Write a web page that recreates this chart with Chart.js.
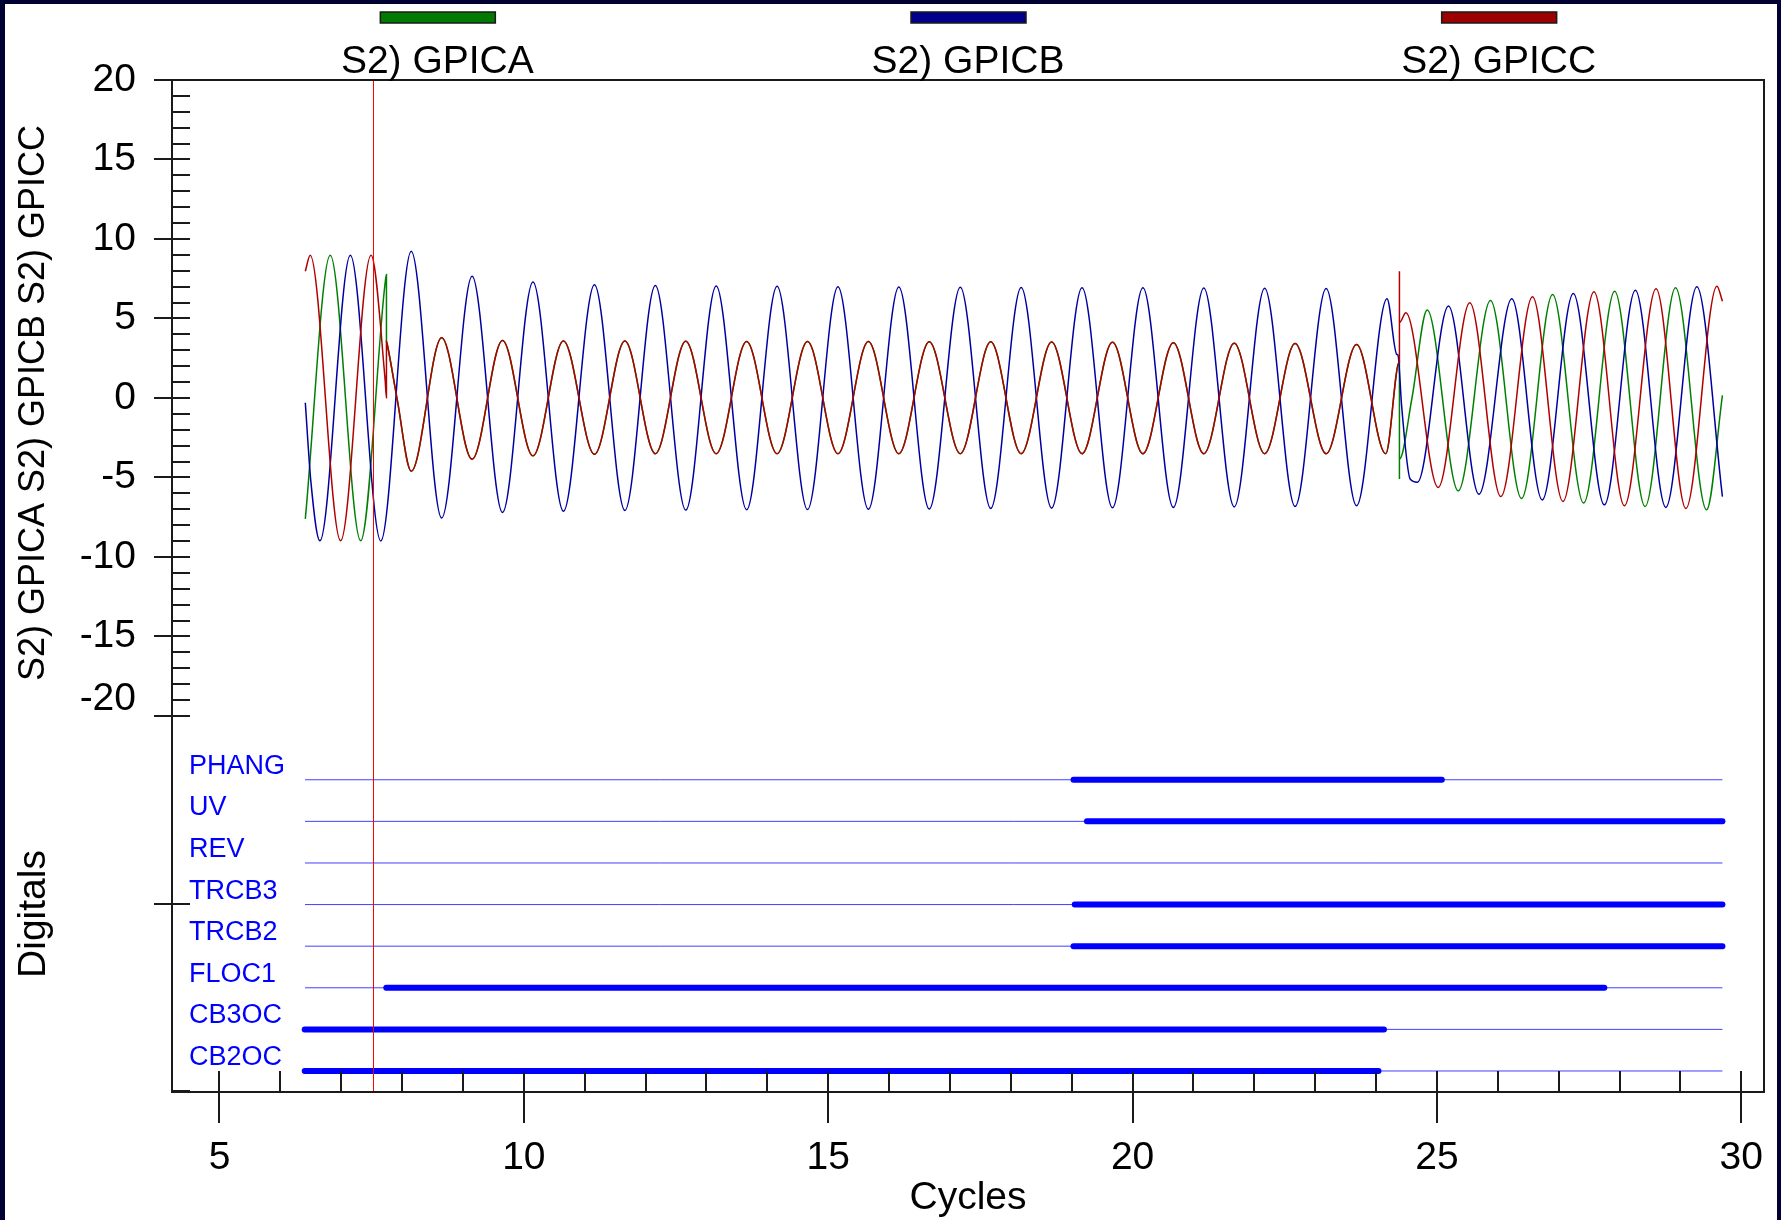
<!DOCTYPE html>
<html>
<head>
<meta charset="utf-8">
<title>S2 GPIC event record</title>
<script src="https://cdn.jsdelivr.net/npm/chart.js@4.4.1/dist/chart.umd.min.js"></script>
<style>
	html, body { margin: 0; padding: 0; background: #fff; overflow: hidden; }
	canvas { display: block; }
</style>
</head>
<body>
<canvas id="chart-gpic" width="1781" height="1220"></canvas>
<script>
'use strict';

// Analog channels, [cycles, value] (peaks, troughs, steps)
const gpicaPre = [[6.41, -7.6], [6.82, 8.98], [7.32, -8.98], [7.72, 7.2], [7.743, 7.77]];
const gpicbPre = [[6.41, -0.3], [6.5, -5.2], [6.65, -8.98], [7.15, 8.98], [7.65, -8.99]];
const gpiccPre = [[6.41, 7.97], [6.49, 8.98], [6.99, -8.98], [7.49, 8.98], [7.72, 1.2], [7.743, 0.02]];

// A and C lie on top of each other during the fault
const gpicacFault = [
	[7.743, 3.57], [7.76, 3.3], [7.92, -0.1], [8.15, -4.6], [8.65, 3.79], [9.15, -3.85],
	[9.65, 3.62], [10.15, -3.64], [10.65, 3.58], [11.16, -3.54], [11.66, 3.58], [12.16, -3.5],
	[12.66, 3.57], [13.16, -3.5], [13.66, 3.56], [14.16, -3.5], [14.66, 3.55], [15.16, -3.5],
	[15.66, 3.55], [16.16, -3.5], [16.66, 3.54], [17.17, -3.5], [17.67, 3.53], [18.17, -3.5],
	[18.67, 3.52], [19.17, -3.5], [19.67, 3.5], [20.17, -3.5], [20.67, 3.48], [21.17, -3.5],
	[21.67, 3.45], [22.17, -3.5], [22.67, 3.42], [23.18, -3.5], [23.68, 3.37], [24.16, -3.5],
	[24.384, 2.3]
];
const gpicbFault = [
	[8.15, 9.23], [8.65, -7.55], [9.15, 7.66], [9.65, -7.2], [10.15, 7.3], [10.65, -7.12],
	[11.16, 7.13], [11.66, -7.07], [12.16, 7.08], [12.66, -7.05], [13.16, 7.05], [13.66, -7.03],
	[14.16, 7.02], [14.66, -7.02], [15.16, 7.0], [15.66, -7.0], [16.16, 6.98], [16.66, -6.98],
	[17.17, 6.96], [17.67, -6.95], [18.17, 6.95], [18.67, -6.93], [19.17, 6.94], [19.67, -6.9],
	[20.17, 6.93], [20.67, -6.88], [21.17, 6.92], [21.67, -6.85], [22.17, 6.9], [22.67, -6.82],
	[23.18, 6.88], [23.68, -6.78], [24.18, 6.24], [24.34, 2.74], [24.36, 2.7], [24.42, -0.5],
	[24.56, -5.1], [24.68, -5.3]
];

const gpicaPost = [
	[24.384, -5.1], [24.384, -3.85], [24.59, 0.0], [24.84, 5.53], [25.35, -5.84], [25.88, 6.13],
	[26.39, -6.32], [26.9, 6.51], [27.41, -6.61], [27.92, 6.72], [28.42, -6.82], [28.92, 6.93],
	[29.43, -7.03], [29.69, 0.17]
];
const gpicbPost = [
	[25.19, 5.78], [25.69, -6.05], [26.23, 6.24], [26.73, -6.41], [27.24, 6.57], [27.75, -6.72],
	[28.26, 6.78], [28.76, -6.88], [29.27, 6.99], [29.69, -6.2]
];
const gpiccPost = [
	[24.384, 7.97], [24.384, 4.73], [24.49, 5.36], [25.02, -5.63], [25.54, 5.99], [26.05, -6.2],
	[26.57, 6.36], [27.07, -6.51], [27.58, 6.68], [28.08, -6.78], [28.6, 6.87], [29.09, -6.95],
	[29.6, 7.03], [29.69, 6.09]
];

const seriesNames = ['S2) GPICA', 'S2) GPICB', 'S2) GPICC'];

// Digital channels, top to bottom, with the span (cycles) where each is set
const digitalNames = ['PHANG', 'UV', 'REV', 'TRCB3', 'TRCB2', 'FLOC1', 'CB3OC', 'CB2OC'];
const digitalOn = [[19.03, 25.08], [19.25, 29.69], null, [19.05, 29.69], [19.03, 29.69], [7.74, 27.75], [6.4, 24.13], [6.4, 24.04]];
const recordSpan = [6.405, 29.69];
const cursorAt = 7.527;

const xTickLabels = [5, 10, 15, 20, 25, 30];
const yTickLabels = [20, 15, 10, 5, 0, -5, -10, -15, -20];

const FONT = '"Liberation Sans", Arial, sans-serif';
const COLORS = {
	a: '#008000',
	b: '#0000a0',
	c: '#b00000',
	legend: ['#007a00', '#00008c', '#9c0000'],
	digital: '#0000ff',
	border: '#000033',
	axis: '#1a1a1a'
};

const toXY = pts => pts.map(p => ({ x: p[0], y: p[1] }));

const analog = (label, pts, color, order) => ({
	label: label,
	data: toXY(pts),
	borderColor: color,
	borderWidth: 1.5,
	pointRadius: 0,
	fill: false,
	cubicInterpolationMode: 'monotone',
	yAxisID: 'y',
	order: order
});

const buildDatasets = () => {
	const sets = [
		analog(seriesNames[0], [...gpicaPre, ...gpicacFault, ...gpicaPost], COLORS.a, 2),
		analog(seriesNames[1], [...gpicbPre, ...gpicbFault, ...gpicbPost], COLORS.b, 1),
		analog(seriesNames[2], [...gpiccPre, ...gpicacFault, ...gpiccPost], COLORS.c, 0)
	];

	digitalNames.forEach((name, i) => {
		const level = digitalNames.length - 1 - i;
		sets.push({
			label: name,
			data: [{ x: recordSpan[0], y: level }, { x: recordSpan[1], y: level }],
			borderColor: 'rgba(0, 0, 255, 0.75)',
			borderWidth: 1,
			pointRadius: 0,
			yAxisID: 'yd',
			order: 4
		});
		if (digitalOn[i]) {
			sets.push({
				label: name + ' on',
				data: [{ x: digitalOn[i][0], y: level }, { x: digitalOn[i][1], y: level }],
				borderColor: COLORS.digital,
				borderWidth: 6,
				borderCapStyle: 'round',
				pointRadius: 0,
				yAxisID: 'yd',
				order: 3
			});
		}
	});
	return sets;
};

// frame, ticks, labels, legend and cursor are drawn here
const recordFrame = {
	id: 'recordFrame',

	beforeDraw(chart) {
		const { ctx, width, height } = chart;
		ctx.save();
		ctx.fillStyle = '#ffffff';
		ctx.fillRect(0, 0, width, height);
		ctx.fillStyle = COLORS.border;
		ctx.fillRect(0, 0, width, 4);
		ctx.fillRect(0, 0, 5, height);
		ctx.fillRect(width - 4, 0, 4, height);
		ctx.restore();
	},

	afterDatasetsDraw(chart) {
		const { ctx, chartArea: area } = chart;
		const xs = chart.scales.x;
		const ys = chart.scales.y;
		const yd = chart.scales.yd;

		ctx.save();

		// cursor
		const cx = Math.round(xs.getPixelForValue(cursorAt)) + 0.5;
		ctx.strokeStyle = '#ff0000';
		ctx.lineWidth = 1;
		ctx.beginPath();
		ctx.moveTo(cx, area.top);
		ctx.lineTo(cx, area.bottom);
		ctx.stroke();

		// frame
		ctx.strokeStyle = COLORS.axis;
		ctx.lineWidth = 2;
		ctx.strokeRect(area.left, area.top, area.right - area.left, area.bottom - area.top);

		// x ticks
		ctx.beginPath();
		for (let v = Math.ceil(xs.min); v <= xs.max; v++) {
			const px = Math.round(xs.getPixelForValue(v));
			const major = xTickLabels.includes(v);
			ctx.moveTo(px, area.bottom - 21);
			ctx.lineTo(px, area.bottom + (major ? 31 : 0));
		}
		// y ticks, analog band
		for (let v = yTickLabels[yTickLabels.length - 1]; v <= yTickLabels[0]; v++) {
			const py = Math.round(ys.getPixelForValue(v));
			const major = yTickLabels.includes(v);
			ctx.moveTo(area.left - (major ? 18 : 0), py);
			ctx.lineTo(area.left + 18, py);
		}
		const bandBottom = ys.getPixelForValue(yTickLabels[yTickLabels.length - 1]);
		const digiMid = Math.round((bandBottom + area.bottom) / 2);
		ctx.moveTo(area.left - 18, digiMid);
		ctx.lineTo(area.left + 18, digiMid);
		ctx.moveTo(area.left, area.bottom - 1);
		ctx.lineTo(area.left + 18, area.bottom - 1);
		ctx.stroke();

		// tick labels
		ctx.fillStyle = '#000';
		ctx.font = '39px ' + FONT;
		ctx.textAlign = 'center';
		ctx.textBaseline = 'middle';
		xTickLabels.forEach(v => {
			ctx.fillText(String(v), xs.getPixelForValue(v), area.bottom + 66);
		});
		ctx.fillText('Cycles', (area.left + area.right) / 2, area.bottom + 106);

		ctx.textAlign = 'right';
		yTickLabels.forEach(v => {
			const py = Math.min(ys.getPixelForValue(v), bandBottom - 17);
			ctx.fillText(String(v), area.left - 36, py);
		});

		// axis titles
		ctx.textAlign = 'center';
		ctx.save();
		ctx.translate(34, (area.top + bandBottom) / 2 + 5);
		ctx.rotate(-Math.PI / 2);
		ctx.font = '36px ' + FONT;
		ctx.fillText(seriesNames.join(' '), 0, 0);
		ctx.restore();
		ctx.save();
		ctx.translate(34, (bandBottom + area.bottom) / 2 + 10);
		ctx.rotate(-Math.PI / 2);
		ctx.font = '39px ' + FONT;
		ctx.fillText('Digitals', 0, 0);
		ctx.restore();

		// digital channel names
		ctx.fillStyle = COLORS.digital;
		ctx.font = '27px ' + FONT;
		ctx.textAlign = 'left';
		ctx.textBaseline = 'alphabetic';
		digitalNames.forEach((name, i) => {
			const level = digitalNames.length - 1 - i;
			ctx.fillText(name, area.left + 17, yd.getPixelForValue(level) - 6);
		});

		// legend
		const slot = (area.right - area.left) / seriesNames.length;
		ctx.textAlign = 'center';
		ctx.textBaseline = 'middle';
		ctx.font = '39px ' + FONT;
		seriesNames.forEach((name, i) => {
			const mid = area.left + slot * (i + 0.5);
			ctx.fillStyle = COLORS.legend[i];
			ctx.fillRect(mid - 57, 12, 115, 11);
			ctx.strokeStyle = '#1a1a1a';
			ctx.lineWidth = 1.5;
			ctx.strokeRect(mid - 57, 12, 115, 11);
			ctx.fillStyle = '#000';
			ctx.fillText(name, mid, 62);
		});

		ctx.restore();
	}
};

const GpicRecord = {
	chart: null,

	init: function () {
		const canvas = document.getElementById('chart-gpic');
		this.chart = new Chart(canvas, {
			type: 'line',
			data: { datasets: buildDatasets() },
			options: {
				responsive: false,
				animation: false,
				devicePixelRatio: 1,
				events: [],
				layout: {
					padding: { left: 172, top: 80, right: 17, bottom: 128 }
				},
				plugins: {
					legend: { display: false },
					tooltip: { enabled: false }
				},
				scales: {
					x: { type: 'linear', min: 4.22, max: 30.373, display: false },
					y: { type: 'linear', min: -43.65, max: 20, display: false },
					yd: { type: 'linear', min: -0.505, max: 23.82, display: false }
				}
			},
			plugins: [recordFrame]
		});
	}
};

GpicRecord.init();
</script>
</body>
</html>
